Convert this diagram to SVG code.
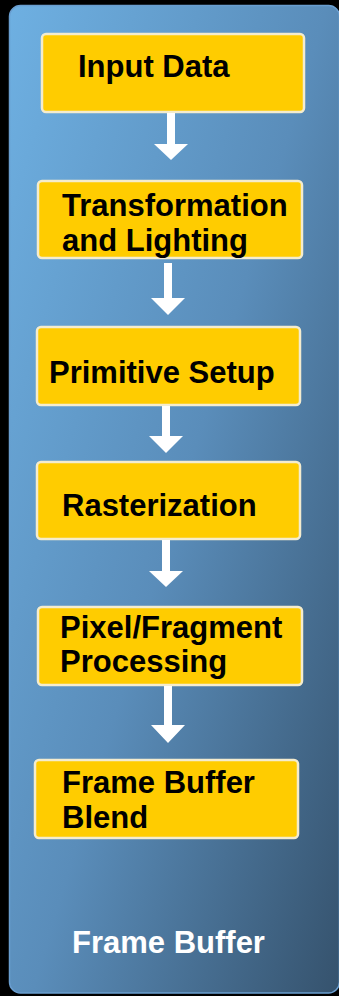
<svg xmlns="http://www.w3.org/2000/svg" width="339" height="996" viewBox="0 0 339 996">
  <defs>
    <linearGradient id="bg" gradientUnits="userSpaceOnUse" x1="9" y1="5" x2="594" y2="180">
      <stop offset="0" stop-color="#6eb0e2"/>
      <stop offset="0.5" stop-color="#5a8dba"/>
      <stop offset="1" stop-color="#34506a"/>
    </linearGradient>
    <style>
      .box { fill: #ffcc00; stroke: #f4ecce; stroke-width: 2.5; }
      .lbl { font-family: "Liberation Sans", Arial, sans-serif; font-weight: bold; font-size: 31px; fill: #000000; }
      .wlbl { font-family: "Liberation Sans", Arial, sans-serif; font-weight: bold; font-size: 31px; fill: #ffffff; }
      .arrow { fill: #ffffff; }
    </style>
  </defs>
  <rect x="0" y="0" width="339" height="996" fill="#000000"/>
  <g id="frame-buffer">
    <rect x="9.5" y="5.5" width="330" height="987.5" rx="11" ry="11" fill="url(#bg)" stroke="#6a9ed0" stroke-width="1.5"/>
    <text class="wlbl" x="72" y="953">Frame Buffer</text>
  </g>
  <g id="input-data">
    <rect class="box" x="42" y="34" width="262" height="78" rx="4"/>
    <text class="lbl" x="78" y="77">Input Data</text>
  </g>
  <g id="transformation-lighting">
    <rect class="box" x="38" y="181" width="264" height="77" rx="4"/>
    <text class="lbl" x="62" y="216">Transformation</text>
    <text class="lbl" x="62" y="251">and Lighting</text>
  </g>
  <g id="primitive-setup">
    <rect class="box" x="37" y="327" width="263" height="78" rx="4"/>
    <text class="lbl" x="49" y="383">Primitive Setup</text>
  </g>
  <g id="rasterization">
    <rect class="box" x="37" y="462" width="263" height="77" rx="4"/>
    <text class="lbl" x="62" y="516">Rasterization</text>
  </g>
  <g id="pixel-fragment-processing">
    <rect class="box" x="38" y="607" width="264" height="78" rx="4"/>
    <text class="lbl" x="60" y="638">Pixel/Fragment</text>
    <text class="lbl" x="60" y="672">Processing</text>
  </g>
  <g id="frame-buffer-blend">
    <rect class="box" x="35" y="760" width="263" height="78" rx="4"/>
    <text class="lbl" x="62" y="793">Frame Buffer</text>
    <text class="lbl" x="62" y="828">Blend</text>
  </g>
  <g id="connectors">
    <polygon class="arrow" points="167,113 175,113 175,144 188,144 171,160 154,144 167,144"/>
    <polygon class="arrow" points="164,263 172,263 172,298 185,298 168,315 151,298 164,298"/>
    <polygon class="arrow" points="162,406 170,406 170,436 183,436 166,453 149,436 162,436"/>
    <polygon class="arrow" points="162,540 170,540 170,571 183,571 166,587 149,571 162,571"/>
    <polygon class="arrow" points="164,686 172,686 172,725 185,725 168,743 151,725 164,725"/>
  </g>
</svg>
